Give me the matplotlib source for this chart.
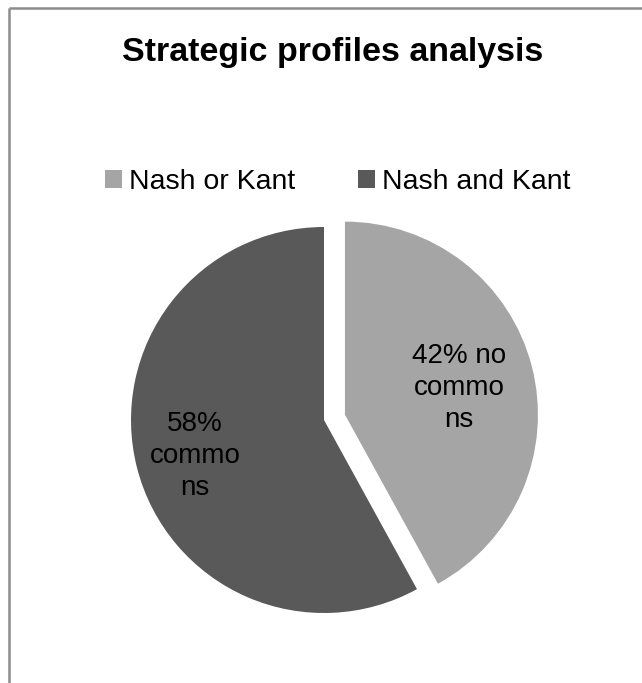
import numpy as np
import matplotlib
matplotlib.use("Agg")
import matplotlib.pyplot as plt

plt.rcParams['font.family'] = ['Liberation Sans', 'DejaVu Sans']

categories = ["Nash or Kant", "Nash and Kant"]
shares = [42, 58]
label_texts = ["42% no\ncommo\nns", "58%\ncommo\nns"]
colors = ["#a5a5a5", "#595959"]

W, H = 642, 683
fig = plt.figure(figsize=(W / 100, H / 100), dpi=100)
ax = fig.add_axes([0, 0, 1, 1])

center = (324, H - 420)
radius = 193
# explode offsets are in data units here (pie drawn in pixel-sized coordinates)
wedges, _ = ax.pie(shares, colors=colors, startangle=90, counterclock=False,
                   explode=[0.112 * radius, 0.0], center=center, radius=radius,
                   wedgeprops=dict(linewidth=0))

ax.set_xlim(0, W)
ax.set_ylim(0, H)
ax.set_aspect('equal')
ax.axis('off')

# chart frame (top and left edges visible)
ax.plot([9, W + 5], [H - 8, H - 8], color="#8c8c8c", lw=1.8, solid_capstyle='butt')
ax.plot([9, 9], [-5, H - 8], color="#8c8c8c", lw=1.8, solid_capstyle='butt')

label_frac = [0.61, 0.69]
for w, txt, frac in zip(wedges, label_texts, label_frac):
    mid = np.deg2rad((w.theta1 + w.theta2) / 2)
    cx, cy = w.center
    ax.text(cx + frac * radius * np.cos(mid), cy + frac * radius * np.sin(mid) - 3, txt,
            ha='center', va='center', fontsize=20, color='black', linespacing=1.3)

ax.text(333, H - 61, "Strategic profiles analysis", ha='center', va='baseline',
        fontsize=24.5, fontweight='bold')

fig.legend(wedges, categories, loc='center', bbox_to_anchor=(338 / W, 1 - 182 / H),
           ncol=2, frameon=False, fontsize=20.5, handlelength=0.6, handleheight=0.6,
           handletextpad=0.25, columnspacing=2.2)

fig.savefig("out.png", dpi=100)
